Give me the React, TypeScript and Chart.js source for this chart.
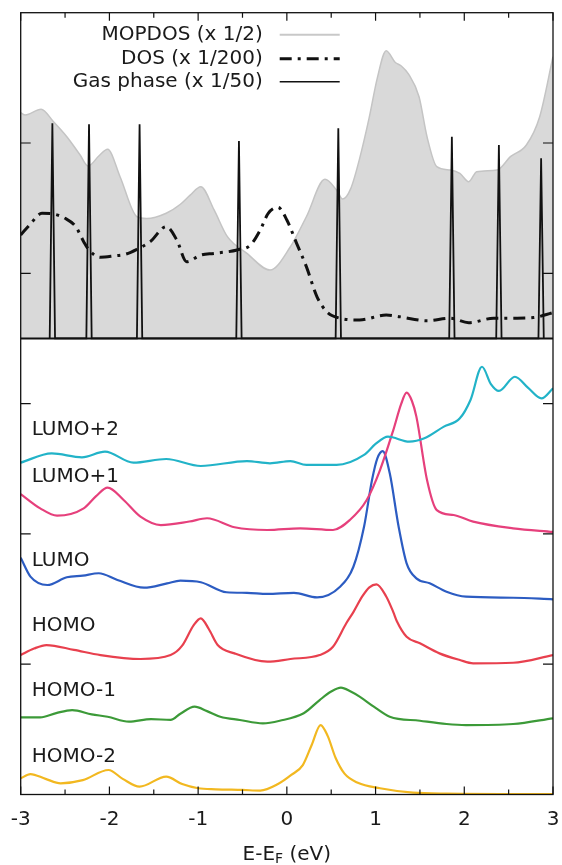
import React, { useEffect, useRef } from "react";
import { Chart, registerables } from "chart.js";

Chart.register(...registerables);

// ---------- DATA ----------
const xTickLabels = [-3, -2, -1, 0, 1, 2, 3];
const yTickValues = [1, 2, 3, 4, 5];
const PANEL_SPLIT = 3.5;

// Top panel
const mopdosE = [-3, -2.95, -2.77, -2.63, -2.48, -2.33, -2.24, -2.12, -2.02, -1.88, -1.69, -1.58, -1.36, -1.2, -1.09, -0.97, -0.82, -0.67, -0.45, -0.19, 0.04, 0.22, 0.43, 0.56, 0.63, 0.72, 0.82, 0.93, 1.02, 1.12, 1.22, 1.29, 1.37, 1.49, 1.58, 1.69, 1.84, 1.95, 2.05, 2.14, 2.37, 2.52, 2.7, 2.85, 3.0];
const mopdosV = [5.233, 5.215, 5.259, 5.163, 5.048, 4.908, 4.823, 4.9, 4.952, 4.741, 4.434, 4.42, 4.461, 4.53, 4.6, 4.665, 4.486, 4.281, 4.153, 4.025, 4.204, 4.434, 4.721, 4.639, 4.57, 4.65, 4.88, 5.2, 5.5, 5.708, 5.62, 5.591, 5.53, 5.355, 5.048, 4.818, 4.793, 4.767, 4.703, 4.78, 4.793, 4.895, 4.985, 5.202, 5.662];

const dosE = [-3, -2.9, -2.76, -2.63, -2.5, -2.38, -2.29, -2.23, -2.1, -1.95, -1.82, -1.69, -1.54, -1.36, -1.24, -1.13, -0.97, -0.82, -0.56, -0.41, -0.3, -0.21, -0.1, 0, 0.11, 0.22, 0.34, 0.45, 0.6, 0.82, 1.12, 1.27, 1.58, 1.84, 2.05, 2.33, 2.55, 2.78, 3.0];
const dosV = [4.294, 4.371, 4.46, 4.455, 4.422, 4.358, 4.243, 4.179, 4.123, 4.133, 4.146, 4.184, 4.243, 4.358, 4.255, 4.089, 4.14, 4.153, 4.179, 4.217, 4.332, 4.46, 4.506, 4.409, 4.23, 4.051, 3.82, 3.705, 3.655, 3.642, 3.68, 3.667, 3.636, 3.655, 3.621, 3.655, 3.655, 3.66, 3.698];

const gasE = [-2.643, -2.23, -1.66, -0.54, 0.58, 1.86, 2.39, 2.866];
const gasV = [5.151, 5.143, 5.143, 5.015, 5.113, 5.048, 4.985, 4.883];
const GAS_HALF_WIDTH = 0.03;

// Bottom panel
const lumo2E = [-3, -2.65, -2.31, -2.05, -1.73, -1.36, -0.97, -0.45, -0.19, 0.04, 0.22, 0.56, 0.87, 1.0, 1.14, 1.38, 1.55, 1.77, 1.95, 2.07, 2.2, 2.3, 2.39, 2.57, 2.72, 2.87, 3.0];
const lumo2V = [2.547, 2.618, 2.588, 2.631, 2.547, 2.575, 2.521, 2.559, 2.542, 2.559, 2.529, 2.529, 2.606, 2.69, 2.746, 2.708, 2.734, 2.823, 2.887, 3.028, 3.283, 3.15, 3.097, 3.206, 3.12, 3.04, 3.117];

const lumo1E = [-3, -2.78, -2.59, -2.29, -2.15, -2.02, -1.84, -1.65, -1.42, -1.1, -0.9, -0.59, -0.22, 0.15, 0.52, 0.71, 0.9, 1.05, 1.2, 1.29, 1.35, 1.41, 1.46, 1.58, 1.69, 1.88, 2.1, 2.55, 3.0];
const lumo1V = [2.306, 2.196, 2.14, 2.196, 2.29, 2.355, 2.26, 2.132, 2.068, 2.095, 2.12, 2.051, 2.03, 2.043, 2.03, 2.107, 2.26, 2.49, 2.797, 3.0, 3.084, 3.02, 2.9, 2.414, 2.183, 2.145, 2.094, 2.043, 2.015];

const lumoE = [-3, -2.89, -2.7, -2.48, -2.3, -2.12, -1.91, -1.61, -1.35, -1.2, -0.97, -0.68, -0.45, -0.22, 0.08, 0.34, 0.6, 0.75, 0.87, 0.96, 1.02, 1.08, 1.16, 1.26, 1.35, 1.46, 1.61, 1.8, 2.02, 2.55, 3.0];
const lumoV = [1.817, 1.672, 1.608, 1.667, 1.68, 1.698, 1.646, 1.587, 1.62, 1.641, 1.629, 1.552, 1.548, 1.539, 1.548, 1.513, 1.595, 1.748, 2.055, 2.414, 2.58, 2.636, 2.465, 2.055, 1.774, 1.659, 1.621, 1.556, 1.518, 1.51, 1.498];

const homoE = [-3, -2.85, -2.71, -2.4, -2.1, -1.65, -1.31, -1.18, -1.05, -0.97, -0.88, -0.78, -0.59, -0.22, 0.04, 0.37, 0.52, 0.67, 0.75, 0.85, 0.93, 1.01, 1.12, 1.2, 1.24, 1.35, 1.5, 1.72, 1.95, 2.1, 2.55, 3.0];
const homoV = [1.07, 1.12, 1.147, 1.11, 1.07, 1.04, 1.07, 1.142, 1.3, 1.352, 1.27, 1.147, 1.083, 1.019, 1.04, 1.07, 1.134, 1.314, 1.4, 1.52, 1.59, 1.613, 1.52, 1.4, 1.33, 1.211, 1.16, 1.083, 1.032, 1.007, 1.011, 1.07];

const homo1E = [-3, -2.78, -2.6, -2.42, -2.2, -2.02, -1.78, -1.53, -1.31, -1.2, -1.04, -0.9, -0.75, -0.53, -0.27, -0.08, 0.19, 0.37, 0.5, 0.61, 0.72, 0.82, 0.98, 1.16, 1.5, 1.8, 2.02, 2.55, 3.0];
const homo1V = [0.592, 0.592, 0.625, 0.648, 0.615, 0.597, 0.559, 0.579, 0.572, 0.62, 0.674, 0.64, 0.597, 0.572, 0.546, 0.566, 0.623, 0.725, 0.79, 0.82, 0.79, 0.751, 0.674, 0.597, 0.566, 0.541, 0.533, 0.541, 0.585];

const homo2E = [-3, -2.89, -2.72, -2.55, -2.3, -2.01, -1.85, -1.66, -1.36, -1.18, -1.0, -0.8, -0.5, -0.3, -0.1, 0.05, 0.18, 0.28, 0.38, 0.46, 0.55, 0.65, 0.8, 1.05, 1.42, 1.8, 2.4, 3.0];
const homo2V = [0.124, 0.157, 0.12, 0.086, 0.11, 0.188, 0.12, 0.06, 0.137, 0.08, 0.048, 0.04, 0.035, 0.03, 0.08, 0.15, 0.226, 0.38, 0.533, 0.45, 0.28, 0.16, 0.09, 0.048, 0.014, 0.006, 0.004, 0.004];

const curveNames = ["LUMO+2", "LUMO+1", "LUMO", "HOMO", "HOMO-1", "HOMO-2"];
const curveLabelY = [2.797, 2.439, 1.794, 1.293, 0.797, 0.29];
const legendLabels = ["MOPDOS (x 1/2)", "DOS (x 1/200)", "Gas phase (x 1/50)"];

// ---------- STYLE ----------
const FONT = "'DejaVu Sans', 'Liberation Sans', sans-serif";
const curveColors = ["#22b3c8", "#e6407c", "#2c5cc2", "#e8404e", "#3c9a38", "#f2b820"];
const DOS_DASH = [12, 6, 3, 6];

const pts = (xs: number[], ys: number[]) => xs.map((x, i) => ({ x, y: ys[i] }));

const gasPoints = () => {
  const out: { x: number; y: number }[] = [];
  gasE.forEach((e, i) => {
    out.push({ x: e - GAS_HALF_WIDTH, y: PANEL_SPLIT });
    out.push({ x: e, y: gasV[i] });
    out.push({ x: e + GAS_HALF_WIDTH, y: PANEL_SPLIT });
  });
  return out;
};

const decorPlugin = {
  id: "decor",
  afterDatasetsDraw(chart: any) {
    const { ctx, chartArea: a, scales } = chart;
    const x = scales.x;
    const y = scales.y;
    ctx.save();
    ctx.strokeStyle = "#111";
    // separator between panels
    const ys = y.getPixelForValue(PANEL_SPLIT);
    ctx.lineWidth = 2;
    ctx.beginPath();
    ctx.moveTo(a.left, ys);
    ctx.lineTo(a.right, ys);
    ctx.stroke();
    // frame
    ctx.lineWidth = 1.3;
    ctx.strokeRect(a.left, a.top, a.right - a.left, a.bottom - a.top);
    // x ticks (major at integers, minor at halves) on bottom and top
    ctx.lineWidth = 1.2;
    for (let k = 0; k < xTickLabels.length; k++) {
      const v = xTickLabels[k];
      const list = [v, v + 0.5];
      list.forEach((t, j) => {
        if (t > 3) return;
        const px = x.getPixelForValue(t);
        const len = j === 0 ? 8 : 5;
        ctx.beginPath();
        ctx.moveTo(px, a.bottom);
        ctx.lineTo(px, a.bottom - len);
        ctx.moveTo(px, a.top);
        ctx.lineTo(px, a.top + len);
        ctx.stroke();
      });
    }
    // y ticks on left and right
    yTickValues.forEach((t) => {
      const py = y.getPixelForValue(t);
      ctx.beginPath();
      ctx.moveTo(a.left, py);
      ctx.lineTo(a.left + 10, py);
      ctx.moveTo(a.right, py);
      ctx.lineTo(a.right - 10, py);
      ctx.stroke();
    });
    // curve labels
    ctx.fillStyle = "#1a1a1a";
    ctx.font = `20px ${FONT}`;
    ctx.textAlign = "left";
    ctx.textBaseline = "middle";
    curveNames.forEach((name, i) => {
      ctx.fillText(name, a.left + 11, y.getPixelForValue(curveLabelY[i]));
    });
    // legend
    const textRight = a.left + 242;
    const sx0 = a.left + 259;
    const sx1 = a.left + 319;
    const rows = [a.top + 22, a.top + 46, a.top + 69];
    ctx.textAlign = "right";
    legendLabels.forEach((lab, i) => {
      ctx.fillStyle = "#1a1a1a";
      ctx.fillText(lab, textRight, rows[i]);
      ctx.beginPath();
      if (i === 0) {
        ctx.strokeStyle = "#c8c8c8";
        ctx.lineWidth = 2;
        ctx.setLineDash([]);
      } else if (i === 1) {
        ctx.strokeStyle = "#111";
        ctx.lineWidth = 3;
        ctx.setLineDash(DOS_DASH);
      } else {
        ctx.strokeStyle = "#111";
        ctx.lineWidth = 1.5;
        ctx.setLineDash([]);
      }
      ctx.moveTo(sx0, rows[i]);
      ctx.lineTo(sx1, rows[i]);
      ctx.stroke();
    });
    ctx.setLineDash([]);
    // axis title with subscript
    const cx = (a.left + a.right) / 2;
    const ty = a.bottom + 60;
    const big = `20px ${FONT}`;
    const small = `14px ${FONT}`;
    ctx.font = big;
    const w1 = ctx.measureText("E-E").width;
    const w3 = ctx.measureText(" (eV)").width;
    ctx.font = small;
    const w2 = ctx.measureText("F").width;
    let sx = cx - (w1 + w2 + w3) / 2;
    ctx.textAlign = "left";
    ctx.fillStyle = "#1a1a1a";
    ctx.font = big;
    ctx.fillText("E-E", sx, ty);
    sx += w1;
    ctx.font = small;
    ctx.fillText("F", sx, ty + 5);
    sx += w2;
    ctx.font = big;
    ctx.fillText(" (eV)", sx, ty);
    ctx.restore();
  },
};

export default function App() {
  const ref = useRef<HTMLCanvasElement>(null);
  useEffect(() => {
    if (!ref.current) return;
    const line = (data: any, color: string, order: number) => ({
      data,
      borderColor: color,
      borderWidth: 2.2,
      pointRadius: 0,
      fill: false,
      cubicInterpolationMode: "monotone",
      order,
    });
    const chart = new Chart(ref.current, {
      type: "line",
      data: {
        datasets: [
          {
            label: legendLabels[2],
            data: gasPoints(),
            borderColor: "#111",
            borderWidth: 1.8,
            pointRadius: 0,
            tension: 0,
            fill: false,
            order: 0,
          } as any,
          {
            label: legendLabels[1],
            data: pts(dosE, dosV),
            borderColor: "#111",
            borderWidth: 3,
            borderDash: DOS_DASH,
            pointRadius: 0,
            cubicInterpolationMode: "monotone",
            fill: false,
            order: 1,
          },
          {
            label: legendLabels[0],
            data: pts(mopdosE, mopdosV),
            borderColor: "#c4c4c4",
            backgroundColor: "#d9d9d9",
            borderWidth: 1.5,
            pointRadius: 0,
            cubicInterpolationMode: "monotone",
            fill: { value: PANEL_SPLIT },
            order: 3,
          },
          line(pts(lumo2E, lumo2V), curveColors[0], 2),
          line(pts(lumo1E, lumo1V), curveColors[1], 2),
          line(pts(lumoE, lumoV), curveColors[2], 2),
          line(pts(homoE, homoV), curveColors[3], 2),
          line(pts(homo1E, homo1V), curveColors[4], 2),
          line(pts(homo2E, homo2V), curveColors[5], 2),
        ] as any,
      },
      options: {
        animation: false,
        responsive: false,
        maintainAspectRatio: false,
        layout: { padding: { left: 20.7, right: 9, top: 12.7, bottom: 33.5 } },
        plugins: { legend: { display: false }, tooltip: { enabled: false } },
        scales: {
          x: {
            type: "linear",
            min: -3,
            max: 3,
            afterBuildTicks: (s: any) => {
              s.ticks = xTickLabels.map((v) => ({ value: v }));
            },
            afterFit: (s: any) => {
              s.height = 37;
              s.paddingLeft = 0;
              s.paddingRight = 0;
            },
            grid: { display: false, drawTicks: false },
            border: { display: false },
            ticks: {
              padding: 13,
              color: "#1a1a1a",
              font: { family: FONT, size: 20 },
              maxRotation: 0,
              autoSkip: false,
            },
          },
          y: {
            type: "linear",
            min: 0,
            max: 6,
            display: false,
          },
        },
      } as any,
      plugins: [decorPlugin],
    });
    return () => chart.destroy();
  }, []);
  return (
    <div style={{ position: "absolute", left: 0, top: 0, width: 562, height: 865, background: "#fff" }}>
      <canvas ref={ref} width={562} height={865} />
    </div>
  );
}
